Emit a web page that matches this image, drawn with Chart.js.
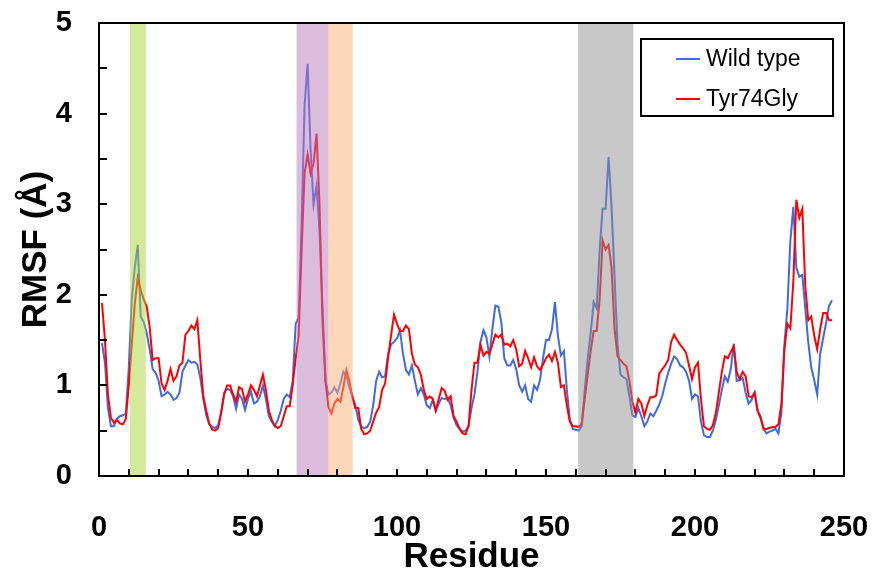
<!DOCTYPE html>
<html>
<head>
<meta charset="utf-8">
<script src="https://cdn.jsdelivr.net/npm/chart.js@4.4.1/dist/chart.umd.min.js"></script>
<style>
  html, body { margin: 0; padding: 0; background: #fff; }
  #wrap { width: 873px; height: 575px; }
</style>
</head>
<body>
<div id="wrap"><canvas id="rmsf" width="873" height="575"></canvas></div>
<script>
// residues are numbered from 1, one value per residue
const firstResidue = 1;

const wildType = [
  1.47, 1.25, 0.75, 0.55, 0.55, 0.63, 0.66, 0.67, 0.69, 1.20,
  1.95, 2.30, 2.55, 1.76, 1.70, 1.58, 1.40, 1.18, 1.14, 1.05,
  0.88, 0.90, 0.93, 0.90, 0.84, 0.86, 0.92, 1.15, 1.22, 1.28,
  1.25, 1.26, 1.23, 1.08, 0.85, 0.67, 0.57, 0.54, 0.53, 0.56,
  0.70, 0.92, 0.96, 0.95, 0.88, 0.74, 0.90, 0.85, 0.73, 0.85,
  0.93, 0.80, 0.82, 0.88, 1.00, 0.85, 0.66, 0.60, 0.55, 0.62,
  0.72, 0.85, 0.90, 0.87, 1.05, 1.68, 1.75, 2.80, 4.10, 4.55,
  3.60, 3.00, 3.20, 2.70, 1.87, 1.05, 0.90, 0.92, 0.98, 0.92,
  1.02, 1.15, 1.10, 0.98, 0.88, 0.78, 0.62, 0.54, 0.53, 0.54,
  0.60, 0.78, 1.05, 1.15, 1.09, 1.10, 1.35, 1.45, 1.48, 1.52,
  1.61, 1.35, 1.17, 1.12, 1.22, 1.05, 0.90, 0.97, 0.90, 0.78,
  0.75, 0.84, 0.72, 0.80, 0.86, 0.85, 0.86, 0.78, 0.64, 0.56,
  0.52, 0.49, 0.50, 0.55, 0.75, 0.90, 1.15, 1.48, 1.61, 1.53,
  1.32, 1.62, 1.88, 1.87, 1.70, 1.30, 1.22, 1.22, 1.28, 1.18,
  1.00, 0.93, 1.00, 0.85, 0.82, 1.00, 0.95, 1.06, 1.30, 1.50,
  1.50, 1.62, 1.92, 1.55, 1.33, 1.38, 0.95, 0.62, 0.52, 0.51,
  0.50, 0.55, 0.95, 1.30, 1.58, 1.92, 1.85, 2.50, 2.95, 2.95,
  3.52, 2.97, 2.20, 1.45, 1.12, 1.09, 1.07, 0.88, 0.67, 0.65,
  0.75, 0.66, 0.55, 0.60, 0.69, 0.66, 0.72, 0.79, 0.88, 1.02,
  1.14, 1.24, 1.32, 1.29, 1.22, 1.20, 1.15, 1.05, 0.85, 0.90,
  0.88, 0.60, 0.45, 0.43, 0.43, 0.50, 0.62, 0.78, 0.95, 1.10,
  1.04, 1.18, 1.46, 1.05, 1.06, 1.08, 0.92, 0.80, 0.84, 0.92,
  0.72, 0.66, 0.52, 0.47, 0.49, 0.50, 0.52, 0.47, 0.70, 1.45,
  1.85, 2.60, 2.97, 2.30, 2.20, 2.22, 1.85, 1.48, 1.20, 1.06,
  0.90, 1.35, 1.52, 1.69, 1.88, 1.94
];

const tyr74Gly = [
  1.91, 1.50, 0.90, 0.64, 0.59, 0.62, 0.58, 0.57, 0.63, 1.00,
  1.45, 1.90, 2.19, 2.05, 1.95, 1.87, 1.65, 1.28, 1.30, 1.30,
  1.02, 0.95, 1.05, 1.18, 1.05, 1.10, 1.22, 1.25, 1.56, 1.60,
  1.66, 1.62, 1.72, 1.28, 0.88, 0.72, 0.58, 0.51, 0.50, 0.53,
  0.70, 0.90, 1.00, 1.00, 0.90, 0.82, 0.98, 0.96, 0.82, 0.90,
  1.00, 0.95, 0.88, 1.00, 1.12, 0.95, 0.72, 0.62, 0.55, 0.53,
  0.55, 0.66, 0.77, 0.77, 1.00, 1.30, 1.55, 2.50, 3.35, 3.55,
  3.34, 3.45, 3.78, 3.00, 1.70, 1.05, 0.76, 0.69, 0.80, 0.85,
  0.82, 0.98, 1.17, 1.05, 0.88, 0.75, 0.75, 0.52, 0.46, 0.47,
  0.50, 0.60, 0.70, 0.76, 0.95, 1.02, 1.30, 1.55, 1.78, 1.68,
  1.60, 1.60, 1.66, 1.62, 1.35, 1.23, 1.20, 1.12, 0.95, 0.85,
  0.88, 0.85, 0.72, 0.85, 0.97, 0.94, 0.84, 0.88, 0.66, 0.60,
  0.52, 0.47, 0.46, 0.55, 0.95, 1.25, 1.25, 1.45, 1.33, 1.37,
  1.35, 1.45, 1.56, 1.53, 1.56, 1.45, 1.46, 1.43, 1.50, 1.40,
  1.21, 1.24, 1.38, 1.30, 1.20, 1.31, 1.21, 1.17, 1.23, 1.30,
  1.34, 1.27, 1.37, 1.25, 0.98, 1.00, 0.78, 0.60, 0.55, 0.55,
  0.54, 0.58, 0.85, 1.12, 1.38, 1.60, 1.60, 1.95, 2.60, 2.50,
  2.55, 2.30, 1.62, 1.32, 1.28, 1.24, 1.21, 1.05, 0.82, 0.70,
  0.85, 0.80, 0.66, 0.78, 0.87, 0.87, 0.89, 1.13, 1.18, 1.22,
  1.28, 1.48, 1.56, 1.50, 1.45, 1.41, 1.36, 1.22, 1.07, 1.20,
  1.25, 0.85, 0.55, 0.52, 0.51, 0.56, 0.70, 0.92, 1.15, 1.32,
  1.30, 1.37, 1.43, 1.15, 1.07, 1.15, 1.10, 0.88, 0.87, 0.92,
  0.72, 0.64, 0.52, 0.52, 0.53, 0.54, 0.54, 0.57, 0.80, 1.40,
  1.68, 1.63, 2.15, 3.05, 2.85, 2.95, 2.10, 1.72, 1.76, 1.55,
  1.40, 1.62, 1.80, 1.80, 1.72, 1.72
];

// shaded residue ranges [start, end]
const bandRanges = [[10.4, 15.7], [66.3, 77.0], [77.0, 85.1], [160.8, 179.3]];
const bandColors = ['rgba(171,211,55,0.5)', 'rgba(185,121,185,0.5)', 'rgba(251,175,115,0.5)', 'rgba(145,145,145,0.5)'];

const xTickLabels = [0, 50, 100, 150, 200, 250];
const yTickLabels = [0, 1, 2, 3, 4, 5];

const toPoints = arr => arr.map((v, i) => ({ x: firstResidue + i, y: v }));

const FONT = '"Liberation Sans", Arial, sans-serif';

// keep the label overflow from shrinking the plot area
const noOverflow = s => {
  s.paddingLeft = 0;
  s.paddingRight = 0;
  s.paddingTop = 0;
  s.paddingBottom = 0;
};

const overlay = {
  id: 'overlay',
  afterDatasetsDraw(chart) {
    const { ctx, chartArea: a, scales: { x, y } } = chart;
    ctx.save();

    // highlight bands over the lines
    bandRanges.forEach(([s, e], i) => {
      const x0 = x.getPixelForValue(s);
      const x1 = x.getPixelForValue(e);
      ctx.fillStyle = bandColors[i];
      ctx.fillRect(x0, a.top, x1 - x0, a.bottom - a.top);
    });

    // inward tick marks
    ctx.strokeStyle = '#000';
    ctx.lineWidth = 2;
    ctx.beginPath();
    x.ticks.forEach(t => {
      if (t.value <= x.min || t.value >= x.max) return;
      const px = Math.round(x.getPixelForValue(t.value));
      ctx.moveTo(px, a.bottom);
      ctx.lineTo(px, a.bottom - 7);
    });
    y.ticks.forEach(t => {
      if (t.value <= y.min || t.value >= y.max) return;
      const py = Math.round(y.getPixelForValue(t.value));
      ctx.moveTo(a.left, py);
      ctx.lineTo(a.left + 8, py);
    });
    ctx.stroke();

    // frame
    ctx.strokeRect(a.left, a.top, a.right - a.left, a.bottom - a.top);

    // legend box
    const bx = a.right - 203, by = a.top + 16, bw = 192, bh = 77;
    ctx.fillStyle = '#fff';
    ctx.fillRect(bx, by, bw, bh);
    ctx.strokeRect(bx, by, bw, bh);
    ctx.font = '23px ' + FONT;
    ctx.textBaseline = 'middle';
    chart.data.datasets.forEach((ds, i) => {
      const ly = by + 20 + i * 40;
      ctx.strokeStyle = ds.borderColor;
      ctx.lineWidth = 2;
      ctx.beginPath();
      ctx.moveTo(bx + 35, ly);
      ctx.lineTo(bx + 59, ly);
      ctx.stroke();
      ctx.fillStyle = '#000';
      ctx.fillText(ds.label, bx + 65, ly + 1);
    });

    ctx.restore();
  }
};

new Chart(document.getElementById('rmsf'), {
  type: 'line',
  data: {
    datasets: [
      {
        label: 'Wild type',
        data: toPoints(wildType),
        borderColor: '#4169e1',
        borderWidth: 2,
        pointRadius: 0,
        tension: 0,
        order: 1
      },
      {
        label: 'Tyr74Gly',
        data: toPoints(tyr74Gly),
        borderColor: '#ff0000',
        borderWidth: 2,
        pointRadius: 0,
        tension: 0,
        order: 0
      }
    ]
  },
  options: {
    responsive: false,
    animation: false,
    devicePixelRatio: 1,
    layout: { padding: { top: 23, right: 29, left: 0, bottom: 0 } },
    plugins: {
      legend: { display: false },
      tooltip: { enabled: false }
    },
    scales: {
      x: {
        type: 'linear',
        min: 0,
        max: 250,
        afterFit: s => { s.height = 99; noOverflow(s); },
        grid: { display: false, drawTicks: false },
        border: { display: false },
        ticks: {
          stepSize: 10,
          autoSkip: false,
          maxRotation: 0,
          padding: 35,
          color: '#000',
          font: { family: FONT, size: 29, weight: 'bold' },
          callback: v => xTickLabels.includes(v) ? String(v) : ''
        },
        title: {
          display: true,
          text: 'Residue',
          color: '#000',
          font: { family: FONT, size: 35, weight: 'bold', lineHeight: 1 },
          padding: { top: 0, bottom: 0 }
        }
      },
      y: {
        min: 0,
        max: 5,
        afterFit: s => { s.width = 99; noOverflow(s); },
        grid: { display: false, drawTicks: false },
        border: { display: false },
        ticks: {
          stepSize: 0.5,
          autoSkip: false,
          padding: 27,
          color: '#000',
          font: { family: FONT, size: 29, weight: 'bold' },
          callback: v => yTickLabels.includes(v) ? String(v) : ''
        },
        title: {
          display: true,
          text: 'RMSF (Å)',
          color: '#000',
          font: { family: FONT, size: 35, weight: 'bold', lineHeight: 1 },
          padding: { top: 19, bottom: 0 }
        }
      }
    }
  },
  plugins: [overlay]
});
</script>
</body>
</html>
